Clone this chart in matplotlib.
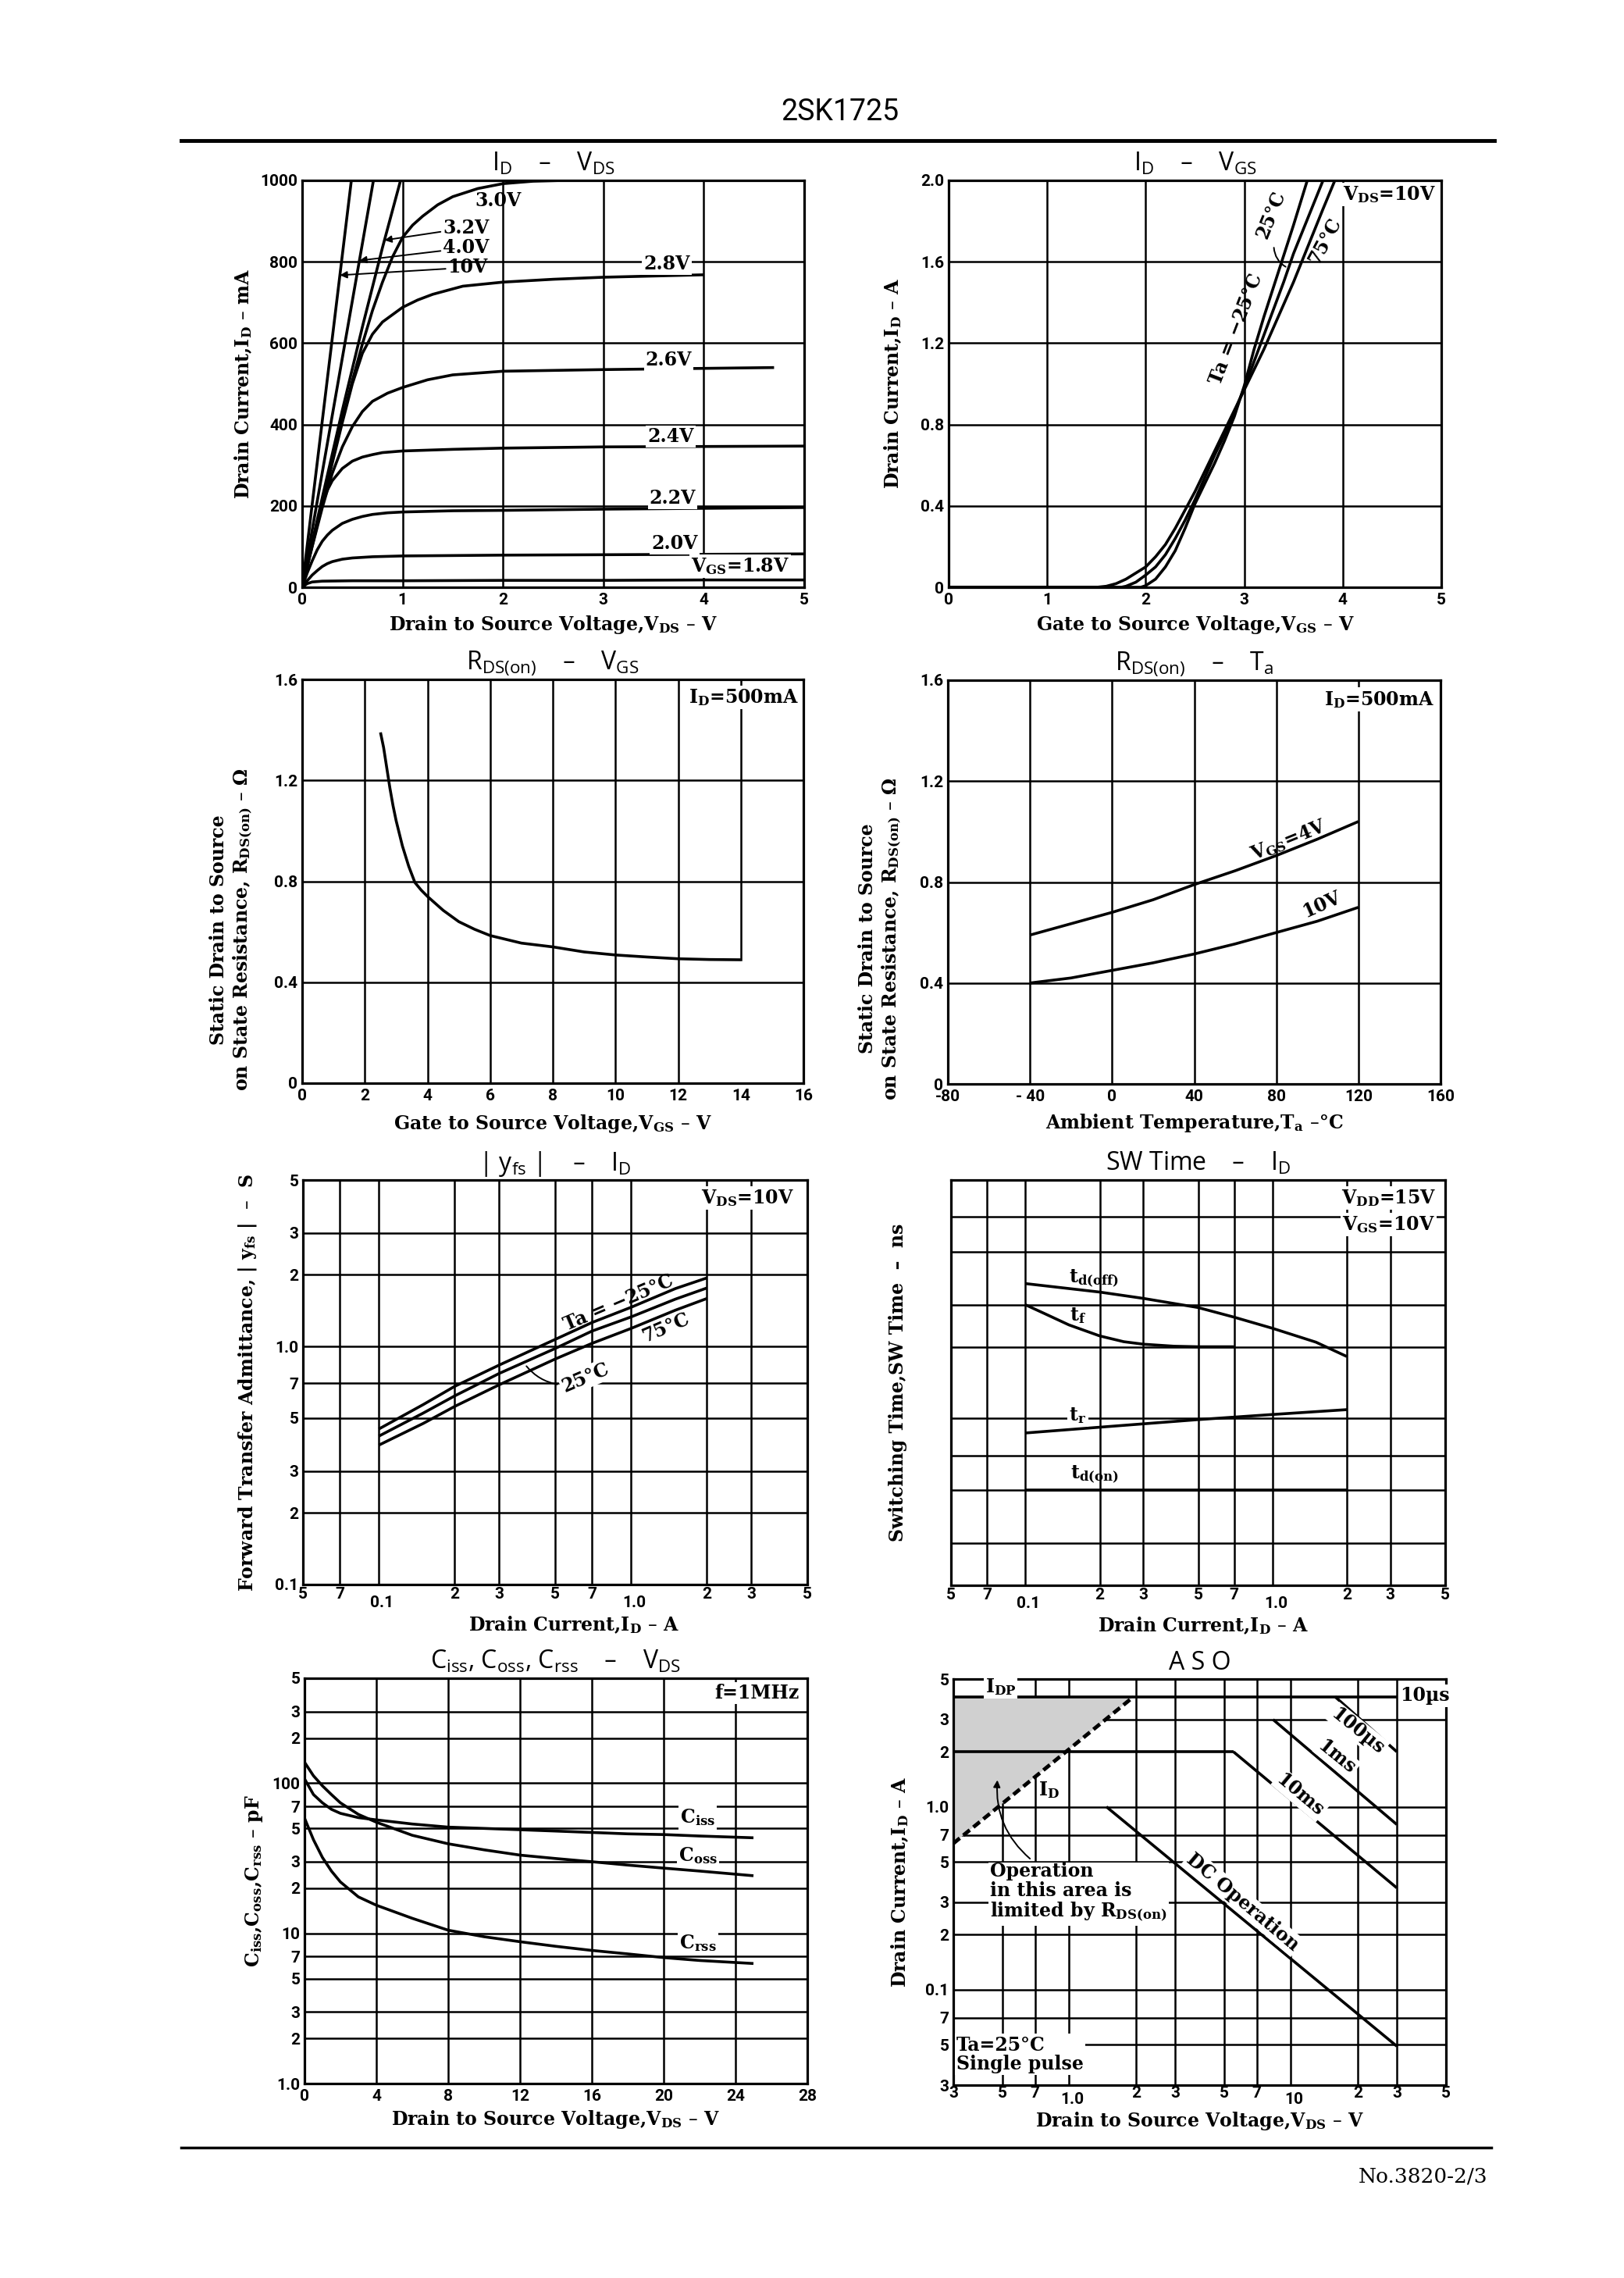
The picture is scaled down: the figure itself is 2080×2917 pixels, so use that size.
import matplotlib
matplotlib.use("Agg")
import matplotlib.pyplot as plt
from matplotlib.lines import Line2D

plt.rcParams['mathtext.default'] = 'regular'
plt.rcParams['hatch.linewidth'] = 1.2
plt.rcParams['hatch.color'] = '#111111'

# ---------------- data ----------------
# ID - VDS (mA)
vds_18 = [0, 0.05, 0.1, 0.2, 0.5, 1, 2, 3, 4, 5]
id_18 = [0, 9, 13, 15, 16, 16, 17, 17, 18, 18]
vds_20 = [0, 0.05, 0.1, 0.15, 0.2, 0.25, 0.3, 0.4, 0.5, 0.7, 1.0, 2, 3, 4, 5]
id_20 = [0, 16, 30, 41, 51, 58, 63, 69, 72, 75, 77, 79, 80, 81, 82]
vds_22 = [0, 0.05, 0.1, 0.15, 0.2, 0.25, 0.3, 0.4, 0.5, 0.6, 0.7, 0.85, 1.0, 1.5, 2, 3, 4, 5]
id_22 = [0, 35, 65, 92, 113, 128, 140, 157, 167, 174, 179, 183, 185, 188, 189, 192, 194, 196]
vds_24 = [0, 0.05, 0.1, 0.15, 0.2, 0.25, 0.3, 0.4, 0.5, 0.6, 0.7, 0.8, 1.0, 1.5, 2, 3, 4, 5]
id_24 = [0, 55, 108, 160, 205, 238, 262, 292, 310, 320, 326, 331, 335, 339, 342, 345, 346, 347]
vds_26 = [0, 0.1, 0.2, 0.3, 0.4, 0.5, 0.6, 0.7, 0.85, 1.0, 1.25, 1.5, 2, 3, 4, 4.7]
id_26 = [0, 100, 195, 280, 345, 395, 432, 457, 477, 491, 510, 522, 531, 535, 538, 540]
vds_28 = [0, 0.1, 0.2, 0.3, 0.4, 0.5, 0.6, 0.7, 0.8, 1.0, 1.15, 1.3, 1.6, 2, 2.5, 3, 3.5, 4]
id_28 = [0, 102, 204, 305, 405, 500, 575, 622, 652, 688, 706, 720, 740, 750, 757, 762, 765, 768]
vds_30 = [0, 0.1, 0.2, 0.3, 0.4, 0.5, 0.6, 0.7, 0.8, 0.9, 1.0, 1.1, 1.2, 1.35, 1.5, 1.75, 2.0, 2.3, 2.6]
id_30 = [0, 105, 210, 312, 412, 508, 598, 680, 750, 812, 860, 890, 912, 940, 960, 980, 992, 998, 1000]
vds_32 = [0, 0.2, 0.4, 0.6, 0.8, 0.98]
id_32 = [0, 220, 435, 640, 835, 1000]
vds_40 = [0, 0.71]
id_40 = [0, 1000]
vds_10 = [0, 0.49]
id_10 = [0, 1000]

# ID - VGS (A)
vgs_m25 = [0, 1.95, 2.0, 2.1, 2.2, 2.3, 2.4, 2.5, 2.6, 2.7, 2.8, 2.9, 3.0, 3.1, 3.2, 3.3, 3.4, 3.5, 3.64]
idg_m25 = [0, 0, 0.008, 0.04, 0.1, 0.18, 0.29, 0.41, 0.51, 0.61, 0.72, 0.84, 0.99, 1.17, 1.33, 1.48, 1.63, 1.78, 2.0]
vgs_25 = [0, 1.75, 1.8, 1.9, 2.0, 2.1, 2.2, 2.3, 2.4, 2.5, 2.6, 2.7, 2.8, 2.9, 3.0, 3.1, 3.2, 3.3, 3.4, 3.5, 3.6, 3.7, 3.8]
idg_25 = [0, 0, 0.005, 0.025, 0.06, 0.1, 0.16, 0.24, 0.33, 0.43, 0.54, 0.65, 0.75, 0.86, 0.98, 1.11, 1.24, 1.37, 1.5, 1.64, 1.76, 1.88, 2.0]
vgs_75 = [0, 1.5, 1.6, 1.7, 1.8, 1.9, 2.0, 2.1, 2.2, 2.3, 2.4, 2.5, 2.6, 2.7, 2.8, 2.9, 3.0, 3.1, 3.2, 3.3, 3.4, 3.5, 3.6, 3.7, 3.8, 3.92]
idg_75 = [0, 0, 0.005, 0.018, 0.04, 0.07, 0.1, 0.15, 0.21, 0.29, 0.38, 0.47, 0.57, 0.67, 0.77, 0.87, 0.97, 1.07, 1.17, 1.28, 1.39, 1.5, 1.62, 1.74, 1.86, 2.0]

# RDS(on) - VGS
vgs_r = [2.5, 2.6, 2.7, 2.8, 2.9, 3.0, 3.2, 3.4, 3.6, 3.8, 4.0, 4.5, 5, 5.5, 6, 7, 8, 9, 10, 11, 12, 13, 14]
rds_v = [1.39, 1.33, 1.25, 1.17, 1.10, 1.04, 0.94, 0.86, 0.795, 0.765, 0.74, 0.685, 0.64, 0.61, 0.585, 0.555,
         0.54, 0.52, 0.508, 0.50, 0.493, 0.49, 0.489]

# RDS(on) - Ta
ta = [-40, -20, 0, 20, 40, 60, 80, 100, 120]
rds_4v = [0.59, 0.635, 0.68, 0.73, 0.79, 0.845, 0.905, 0.97, 1.04]
rds_10v = [0.40, 0.42, 0.45, 0.48, 0.515, 0.555, 0.60, 0.645, 0.70]

# |yfs| - ID
id_y = [0.1, 0.15, 0.2, 0.3, 0.5, 0.7, 1.0, 1.5, 2.0]
yfs_m25 = [0.45, 0.57, 0.68, 0.835, 1.07, 1.26, 1.46, 1.75, 1.94]
yfs_25 = [0.42, 0.525, 0.62, 0.77, 0.98, 1.16, 1.33, 1.58, 1.76]
yfs_75 = [0.385, 0.475, 0.56, 0.69, 0.885, 1.03, 1.19, 1.42, 1.59]

# SW Time - ID (ns)
id_off = [0.1, 0.2, 0.3, 0.5, 0.7, 1.0, 1.5, 2.0]
t_doff = [36.8, 33.9, 31.9, 29.2, 26.6, 23.9, 20.9, 18.2]
id_f = [0.1, 0.12, 0.15, 0.2, 0.25, 0.3, 0.4, 0.5, 0.7]
t_f = [30, 27.5, 24.7, 22.2, 21.0, 20.5, 20.1, 20, 20]
id_r = [0.1, 0.2, 0.5, 1.0, 2.0]
t_r = [8.7, 9.2, 9.9, 10.4, 10.9]
id_on = [0.1, 2.0]
t_don = [5.0, 5.0]

# Ciss, Coss, Crss - VDS (pF)
vds_c = [0, 0.5, 1, 1.5, 2, 3, 4, 6, 8, 10, 12, 14, 16, 18, 20, 22, 25]
c_iss = [107, 84, 74, 67, 63, 59, 57, 53.5, 51, 50, 49, 48, 47, 46, 45.5, 44.5, 43.3]
c_oss = [138, 112, 96, 84, 74, 62, 55, 45, 39.5, 36, 33.2, 31.5, 30, 28.5, 27.2, 26, 24.2]
c_rss = [58.6, 42, 32, 26, 22, 17.5, 15.4, 12.6, 10.5, 9.5, 8.8, 8.2, 7.7, 7.3, 6.9, 6.6, 6.3]

# ASO
aso_idp_v = [0.3, 30]
aso_idp_i = [4.0, 4.0]
aso_id_v = [0.3, 5.5]
aso_id_i = [2.0, 2.0]
aso_100us_v = [15.8, 30]
aso_100us_i = [4.0, 2.0]
aso_1ms_v = [8.3, 30]
aso_1ms_i = [3.0, 0.8]
aso_10ms_v = [5.5, 30]
aso_10ms_i = [2.0, 0.36]
aso_dc_v = [1.47, 30]
aso_dc_i = [1.0, 0.049]
aso_rds_v = [0.3, 1.95]
aso_rds_i = [0.63, 4.0]

# ---------------- style ----------------
W, H = 2080, 2917
fig = plt.figure(figsize=(W / 100, H / 100), dpi=100)

LW_C = 2.6
LW_G = 1.8
LW_S = 2.3
SERIF = 'DejaVu Serif'
TICK_KW = dict(fontfamily='Roboto', fontweight='bold', fontsize=15)
LAB_KW = dict(fontfamily=SERIF, fontweight='bold', fontsize=17)
ANN_KW = dict(fontfamily=SERIF, fontweight='bold', fontsize=17)
TITLE_KW = dict(fontfamily='Open Sans', fontsize=23)
WB = dict(facecolor='white', edgecolor='none', pad=1.5)
CK = dict(color='k', lw=LW_C, zorder=3, solid_capstyle='butt')


def box_ax(x0, y0, x1, y1):
    return fig.add_axes([x0 / W, 1 - y1 / H, (x1 - x0) / W, (y1 - y0) / H])


def frame(ax, xlim, ylim, xticks, xlabels, yticks, ylabels, xgrid, ygrid, xlog=False, ylog=False, xpad=5):
    if xlog:
        ax.set_xscale('log')
    if ylog:
        ax.set_yscale('log')
    ax.set_xlim(*xlim)
    ax.set_ylim(*ylim)
    ax.set_xticks(xticks)
    ax.set_xticklabels(xlabels, **TICK_KW)
    ax.set_yticks(yticks)
    ax.set_yticklabels(ylabels, **TICK_KW)
    ax.minorticks_off()
    ax.tick_params(axis='x', length=0, pad=xpad)
    ax.tick_params(axis='y', length=0, pad=4)
    for v in xgrid:
        ax.axvline(v, color='k', lw=LW_G, zorder=1)
    for v in ygrid:
        ax.axhline(v, color='k', lw=LW_G, zorder=1)
    for s in ax.spines.values():
        s.set_linewidth(LW_S)
        s.set_zorder(4)


def labels(ax, title, xlabel, ylabel, xl_y, yl_x, yl_y=0.5):
    ax.text(0.5, 1.04, title, transform=ax.transAxes, ha='center', va='center', **TITLE_KW)
    ax.set_xlabel(xlabel, **LAB_KW)
    ax.xaxis.set_label_coords(0.5, xl_y)
    ax.xaxis.label.set_va('center')
    ax.set_ylabel(ylabel, **LAB_KW)
    ax.yaxis.set_label_coords(yl_x, yl_y)
    ax.yaxis.label.set_va('center')
    ax.yaxis.label.set_multialignment('center')


def low_xlabel(ax, x, s, dy):
    ax.annotate(s, xy=(x, 0), xycoords=('data', 'axes fraction'), xytext=(3, -dy),
                textcoords='offset points', ha='center', va='center', **TICK_KW)


# ---------------- header / footer ----------------
fig.text(1076 / W, 1 - 143 / H, '2SK1725', ha='center', va='center', fontfamily='Roboto', fontsize=27)
fig.add_artist(Line2D([232 / W, 1914 / W], [1 - 180 / H, 1 - 180 / H], color='k', lw=3.5))
fig.add_artist(Line2D([232 / W, 1910 / W], [1 - 2750 / H, 1 - 2750 / H], color='k', lw=2.5))
fig.text(1905 / W, 1 - 2787 / H, 'No.3820-2/3', ha='right', va='center', fontfamily=SERIF, fontsize=19)

# ---------------- 1: ID - VDS ----------------
ax = box_ax(387, 231, 1030, 752)
frame(ax, (0, 5), (0, 1000), [0, 1, 2, 3, 4, 5], ['0', '1', '2', '3', '4', '5'],
      [0, 200, 400, 600, 800, 1000], ['0', '200', '400', '600', '800', '1000'],
      [1, 2, 3, 4], [200, 400, 600, 800])
for xs, ys in [(vds_18, id_18), (vds_20, id_20), (vds_22, id_22), (vds_24, id_24), (vds_26, id_26),
               (vds_28, id_28), (vds_30, id_30), (vds_32, id_32), (vds_40, id_40), (vds_10, id_10)]:
    ax.plot(xs, ys, **CK)
labels(ax, 'I$_D$    –    V$_{DS}$', 'Drain to Source Voltage,V$_{DS}$ – V', 'Drain Current,I$_D$ – mA',
       -0.092, -0.117)
ax.text(1.95, 950, '3.0V', ha='center', va='center', zorder=5, **ANN_KW)
arr = dict(arrowstyle='-|>', color='k', lw=1.4, mutation_scale=13, shrinkA=0, shrinkB=0)
ax.annotate('3.2V', xy=(0.82, 853), xytext=(1.4, 883), ha='left', va='center', arrowprops=arr, zorder=5, **ANN_KW)
ax.annotate('4.0V', xy=(0.57, 803), xytext=(1.4, 834), ha='left', va='center', arrowprops=arr, zorder=5, **ANN_KW)
ax.annotate('10V', xy=(0.376, 767), xytext=(1.45, 786), ha='left', va='center', arrowprops=arr, zorder=5, **ANN_KW)
for x, y, s in [(3.63, 794, '2.8V'), (3.65, 559, '2.6V'), (3.67, 371, '2.4V'), (3.69, 219, '2.2V'),
                (3.71, 108, '2.0V'), (4.36, 52, 'V$_{GS}$=1.8V')]:
    ax.text(x, y, s, ha='center', va='center', bbox=WB, zorder=5, **ANN_KW)

# ---------------- 2: ID - VGS ----------------
ax = box_ax(1215, 231, 1846, 752)
frame(ax, (0, 5), (0, 2.0), [0, 1, 2, 3, 4, 5], ['0', '1', '2', '3', '4', '5'],
      [0, 0.4, 0.8, 1.2, 1.6, 2.0], ['0', '0.4', '0.8', '1.2', '1.6', '2.0'],
      [1, 2, 3, 4], [0.4, 0.8, 1.2, 1.6])
ax.plot(vgs_m25, idg_m25, **CK)
ax.plot(vgs_25, idg_25, **CK)
ax.plot(vgs_75, idg_75, **CK)
labels(ax, 'I$_D$    –    V$_{GS}$', 'Gate to Source Voltage,V$_{GS}$ – V', 'Drain Current,I$_D$ – A',
       -0.092, -0.113)
ax.text(2.92, 1.27, 'Ta = −25°C', rotation=69, ha='center', va='center', zorder=5, **ANN_KW)
ax.text(3.27, 1.83, '25°C', rotation=68, ha='center', va='center', zorder=5, **ANN_KW)
ax.annotate('', xy=(3.44, 1.57), xytext=(3.30, 1.68),
            arrowprops=dict(arrowstyle='-', color='k', lw=1.4, connectionstyle='arc3,rad=0.3'))
ax.text(3.82, 1.70, '75°C', rotation=62, ha='center', va='center', zorder=5, **ANN_KW)
ax.text(4.47, 1.93, 'V$_{DS}$=10V', ha='center', va='center', bbox=WB, zorder=5, **ANN_KW)

# ---------------- 3: RDS(on) - VGS ----------------
ax = box_ax(387, 870, 1029, 1387)
frame(ax, (0, 16), (0, 1.6), list(range(0, 17, 2)), [str(v) for v in range(0, 17, 2)],
      [0, 0.4, 0.8, 1.2, 1.6], ['0', '0.4', '0.8', '1.2', '1.6'],
      [2, 4, 6, 8, 10, 12], [0.4, 0.8, 1.2])
ax.plot([14, 14], [rds_v[-1], 1.6], color='k', lw=LW_G, zorder=1)
ax.plot(vgs_r, rds_v, **CK)
labels(ax, 'R$_{DS(on)}$    –    V$_{GS}$', 'Gate to Source Voltage,V$_{GS}$ – V',
       'Static Drain to Source\non State Resistance, R$_{DS(on)}$ – Ω', -0.10, -0.140, 0.38)
ax.text(14.1, 1.53, 'I$_D$=500mA', ha='center', va='center', bbox=WB, zorder=5, **ANN_KW)

# ---------------- 4: RDS(on) - Ta ----------------
ax = box_ax(1214, 871, 1845, 1388)
frame(ax, (-80, 160), (0, 1.6), [-80, -40, 0, 40, 80, 120, 160],
      ['-80', '- 40', '0', '40', '80', '120', '160'],
      [0, 0.4, 0.8, 1.2, 1.6], ['0', '0.4', '0.8', '1.2', '1.6'],
      [-40, 0, 40, 80, 120], [0.4, 0.8, 1.2])
ax.plot(ta, rds_4v, **CK)
ax.plot(ta, rds_10v, **CK)
labels(ax, 'R$_{DS(on)}$    –    T$_a$', 'Ambient Temperature,T$_a$ –°C',
       'Static Drain to Source\non State Resistance, R$_{DS(on)}$ – Ω', -0.097, -0.136, 0.36)
ax.text(86, 0.965, 'V$_{GS}$=4V', rotation=22, ha='center', va='center', zorder=5, **ANN_KW)
ax.text(102, 0.71, '10V', rotation=24, ha='center', va='center', zorder=5, **ANN_KW)
ax.text(130, 1.524, 'I$_D$=500mA', ha='center', va='center', bbox=WB, zorder=5, **ANN_KW)

# ---------------- 5: |yfs| - ID ----------------
logx_t = [0.05, 0.07, 0.1, 0.2, 0.3, 0.5, 0.7, 1, 2, 3, 5]
logx_l = ['5', '7', '', '2', '3', '5', '7', '', '2', '3', '5']
ax = box_ax(388, 1511, 1034, 2029)
frame(ax, (0.05, 5), (0.1, 5), logx_t, logx_l,
      [0.1, 0.2, 0.3, 0.5, 0.7, 1, 2, 3, 5], ['0.1', '2', '3', '5', '7', '1.0', '2', '3', '5'],
      [0.07, 0.1, 0.2, 0.3, 0.5, 0.7, 1, 2, 3], [0.2, 0.3, 0.5, 0.7, 1, 2, 3], xlog=True, ylog=True, xpad=2)
low_xlabel(ax, 0.1, '0.1', 17)
low_xlabel(ax, 1.0, '1.0', 17)
ax.plot(id_y, yfs_m25, **CK)
ax.plot(id_y, yfs_25, **CK)
ax.plot(id_y, yfs_75, **CK)
labels(ax, '| y$_{fs}$ |    –    I$_D$', 'Drain Current,I$_D$ – A',
       'Forward Transfer Admittance, | y$_{fs}$ |  –  S', -0.099, -0.110)
ax.xaxis.set_label_coords(0.537, -0.099)
ax.text(0.89, 1.52, 'Ta = −25°C', rotation=23, ha='center', va='center', zorder=5, **ANN_KW)
ax.text(1.37, 1.20, '75°C', rotation=23, ha='center', va='center', zorder=5, **ANN_KW)
ax.text(0.66, 0.74, '25°C', rotation=23, ha='center', va='center', bbox=WB, zorder=5, **ANN_KW)
ax.annotate('', xy=(0.38, 0.84), xytext=(0.52, 0.69),
            arrowprops=dict(arrowstyle='-', color='k', lw=1.4, connectionstyle='arc3,rad=-0.2'))
ax.text(2.9, 4.2, 'V$_{DS}$=10V', ha='center', va='center', bbox=WB, zorder=5, **ANN_KW)

# ---------------- 6: SW Time - ID ----------------
ax = box_ax(1218, 1511, 1851, 2030)
frame(ax, (0.05, 5), (2, 100), logx_t, logx_l, [], [],
      [0.07, 0.1, 0.2, 0.3, 0.5, 0.7, 1, 2, 3], [3, 5, 7, 10, 20, 30, 50, 70], xlog=True, ylog=True, xpad=2)
ax.set_yticks([])
ax.minorticks_off()
low_xlabel(ax, 0.1, '0.1', 17)
low_xlabel(ax, 1.0, '1.0', 17)
ax.plot(id_off, t_doff, **CK)
ax.plot(id_f, t_f, **CK)
ax.plot(id_r, t_r, **CK)
ax.plot(id_on, t_don, **CK)
labels(ax, 'SW Time    –    I$_D$', 'Drain Current,I$_D$ – A', 'Switching Time,SW Time  –  ns',
       -0.099, -0.107)
ax.xaxis.set_label_coords(0.51, -0.099)
ax.text(0.19, 38.5, 't$_{d(off)}$', ha='center', va='center', zorder=5, **ANN_KW)
ax.text(0.163, 27, 't$_f$', ha='center', va='center', zorder=5, **ANN_KW)
ax.text(0.163, 10.3, 't$_r$', ha='center', va='center', bbox=WB, zorder=5, **ANN_KW)
ax.text(0.19, 5.8, 't$_{d(on)}$', ha='center', va='center', zorder=5, **ANN_KW)
ax.text(2.95, 84, 'V$_{DD}$=15V', ha='center', va='center', bbox=WB, zorder=5, **ANN_KW)
ax.text(2.95, 65, 'V$_{GS}$=10V', ha='center', va='center', bbox=WB, zorder=5, **ANN_KW)

# ---------------- 7: Ciss, Coss, Crss - VDS ----------------
ax = box_ax(390, 2149, 1034, 2668)
frame(ax, (0, 28), (1, 500), list(range(0, 29, 4)), [str(v) for v in range(0, 29, 4)],
      [1, 2, 3, 5, 7, 10, 20, 30, 50, 70, 100, 200, 300, 500],
      ['1.0', '2', '3', '5', '7', '10', '2', '3', '5', '7', '100', '2', '3', '5'],
      [4, 8, 12, 16, 20, 24], [2, 3, 5, 7, 10, 20, 30, 50, 70, 100, 200, 300], ylog=True)
ax.plot(vds_c, c_iss, **CK)
ax.plot(vds_c, c_oss, **CK)
ax.plot(vds_c, c_rss, **CK)
labels(ax, 'C$_{iss}$, C$_{oss}$, C$_{rss}$    –    V$_{DS}$', 'Drain to Source Voltage,V$_{DS}$ – V',
       'C$_{iss}$,C$_{oss}$,C$_{rss}$ – pF', -0.089, -0.10)
ax.text(21.9, 59, 'C$_{iss}$', ha='center', va='center', bbox=WB, zorder=5, **ANN_KW)
ax.text(21.9, 33, 'C$_{oss}$', ha='center', va='center', bbox=WB, zorder=5, **ANN_KW)
ax.text(21.9, 8.6, 'C$_{rss}$', ha='center', va='center', bbox=WB, zorder=5, **ANN_KW)
ax.text(25.2, 400, 'f=1MHz', ha='center', va='center', bbox=WB, zorder=5, **ANN_KW)

# ---------------- 8: ASO ----------------
ax = box_ax(1221, 2150, 1852, 2670)
frame(ax, (0.3, 50), (0.03, 5), [0.3, 0.5, 0.7, 1, 2, 3, 5, 7, 10, 20, 30, 50],
      ['3', '5', '7', '', '2', '3', '5', '7', '', '2', '3', '5'],
      [0.03, 0.05, 0.07, 0.1, 0.2, 0.3, 0.5, 0.7, 1, 2, 3, 5],
      ['3', '5', '7', '0.1', '2', '3', '5', '7', '1.0', '2', '3', '5'],
      [0.5, 0.7, 1, 2, 3, 5, 7, 10, 20, 30], [0.05, 0.07, 0.1, 0.2, 0.3, 0.5, 0.7, 1, 3],
      xlog=True, ylog=True, xpad=1)
low_xlabel(ax, 1.0, '1.0', 13)
low_xlabel(ax, 10, '10', 13)
ax.fill([aso_rds_v[0], aso_rds_v[1], aso_rds_v[0]], [aso_rds_i[0], aso_rds_i[1], aso_rds_i[1]],
        facecolor='#d0d0d0', edgecolor='none', hatch='//////', zorder=2)
ax.plot(aso_rds_v, aso_rds_i, color='k', lw=3.5, ls=(0, (2.2, 1.2)), zorder=3)
for xs, ys in [(aso_idp_v, aso_idp_i), (aso_id_v, aso_id_i), (aso_100us_v, aso_100us_i),
               (aso_1ms_v, aso_1ms_i), (aso_10ms_v, aso_10ms_i), (aso_dc_v, aso_dc_i)]:
    ax.plot(xs, ys, **CK)
labels(ax, 'A S O', 'Drain to Source Voltage,V$_{DS}$ – V', 'Drain Current,I$_D$ – A', -0.089, -0.109)
ax.text(0.49, 4.55, 'I$_{DP}$', ha='center', va='center', bbox=WB, zorder=5, **ANN_KW)
ax.text(40, 4.05, '10µs', ha='center', va='center', bbox=WB, zorder=5, **ANN_KW)
ax.text(20, 2.6, '100µs', rotation=-39, ha='center', va='center', bbox=WB, zorder=5, **ANN_KW)
ax.text(16.1, 1.87, '1ms', rotation=-39, ha='center', va='center', bbox=WB, zorder=5, **ANN_KW)
ax.text(11, 1.16, '10ms', rotation=-40, ha='center', va='center', bbox=WB, zorder=5, **ANN_KW)
ax.text(6.06, 0.30, 'DC Operation', rotation=-40, ha='center', va='center', bbox=WB, zorder=5, **ANN_KW)
ax.text(0.81, 1.24, 'I$_D$', ha='center', va='center', zorder=5, **ANN_KW)
ax.text(0.44, 0.50, 'Operation\nin this area is\nlimited by R$_{DS(on)}$', ha='left', va='top',
        linespacing=1.05, bbox=WB, zorder=5, **ANN_KW)
ax.annotate('', xy=(0.474, 1.40), xytext=(0.665, 0.52),
            arrowprops=dict(arrowstyle='-|>', color='k', lw=1.4, mutation_scale=13,
                            connectionstyle='arc3,rad=-0.25', shrinkA=0, shrinkB=0), zorder=5)
ax.text(0.31, 0.056, 'Ta=25°C\nSingle pulse', ha='left', va='top', linespacing=1.0,
        bbox=WB, zorder=5, **ANN_KW)

fig.savefig('out.png', dpi=100)
